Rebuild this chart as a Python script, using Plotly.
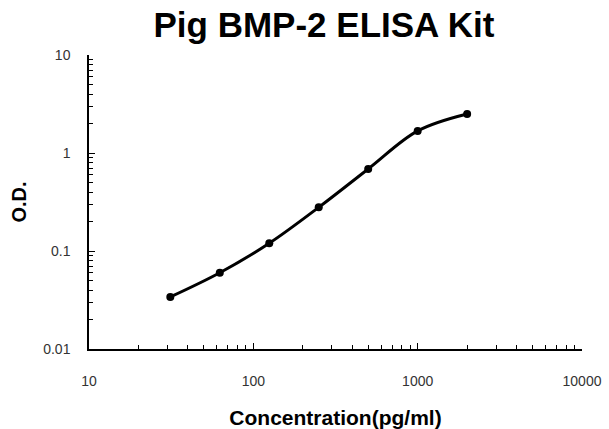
import plotly.graph_objects as go

# Data
concentration = [31.25, 62.5, 125, 250, 500, 1000, 2000]
od = [0.034, 0.060, 0.120, 0.279, 0.687, 1.68, 2.50]

x_tick_vals = [10, 100, 1000, 10000]
x_tick_text = ["10", "100", "1000", "10000"]
y_tick_vals = [0.01, 0.1, 1, 10]
y_tick_text = ["0.01", "0.1", "1", "10"]

title_text = "Pig BMP-2 ELISA Kit"
x_title = "Concentration(pg/ml)"
y_title = "O.D."

def minor_vals(decades):
    vals = []
    for d in decades[:-1]:
        for m in range(2, 10):
            vals.append(d * m)
    return vals

FONT = "Liberation Sans, Arial, sans-serif"

fig = go.Figure()
fig.add_trace(go.Scatter(
    x=concentration, y=od,
    mode="lines+markers",
    line=dict(color="black", width=3, shape="spline", smoothing=1.0),
    marker=dict(color="black", size=8),
    showlegend=False,
    hoverinfo="x+y",
))

fig.update_layout(
    width=609, height=429,
    margin=dict(l=89, r=27, t=55, b=80, autoexpand=False),
    paper_bgcolor="white",
    plot_bgcolor="white",
    font=dict(family=FONT, color="black"),
    title=dict(
        text="<b>" + title_text + "</b>",
        font=dict(family=FONT, size=35, color="black"),
        xref="container", x=0.532, xanchor="center",
        yref="container", y=1 - 25 / 429, yanchor="middle",
    ),
    xaxis=dict(
        type="log", range=[1, 4], automargin=False,
        showgrid=False, zeroline=False,
        showline=True, linecolor="black", linewidth=1.5, mirror=False,
        ticks="inside", ticklen=6, tickwidth=1, tickcolor="black",
        tickmode="array", tickvals=x_tick_vals, ticktext=x_tick_text,
        tickfont=dict(family=FONT, size=14, color="#333333"),
        ticklabelstandoff=18,
        minor=dict(ticks="inside", ticklen=4, tickwidth=1, tickcolor="black",
                   tickmode="array", tickvals=minor_vals(x_tick_vals), showgrid=False),
        title=dict(text="<b>" + x_title + "</b>",
                   font=dict(family=FONT, size=21, color="black"),
                   standoff=23),
    ),
    yaxis=dict(
        type="log", range=[-2, 1], automargin=False,
        showgrid=False, zeroline=False,
        showline=True, linecolor="black", linewidth=1.5, mirror=False,
        ticks="inside", ticklen=6, tickwidth=1, tickcolor="black",
        tickmode="array", tickvals=y_tick_vals, ticktext=y_tick_text,
        tickfont=dict(family=FONT, size=14, color="#333333"),
        ticklabelstandoff=14,
        minor=dict(ticks="inside", ticklen=4, tickwidth=1, tickcolor="black",
                   tickmode="array", tickvals=minor_vals(y_tick_vals), showgrid=False),
        title=dict(text="<b>" + y_title + "</b>",
                   font=dict(family=FONT, size=20, color="black"),
                   standoff=11),
    ),
)

fig.write_html(
    "out.html",
    config={"displayModeBar": False},
    post_script="document.body.style.margin='0';document.body.style.padding='0';",
)
